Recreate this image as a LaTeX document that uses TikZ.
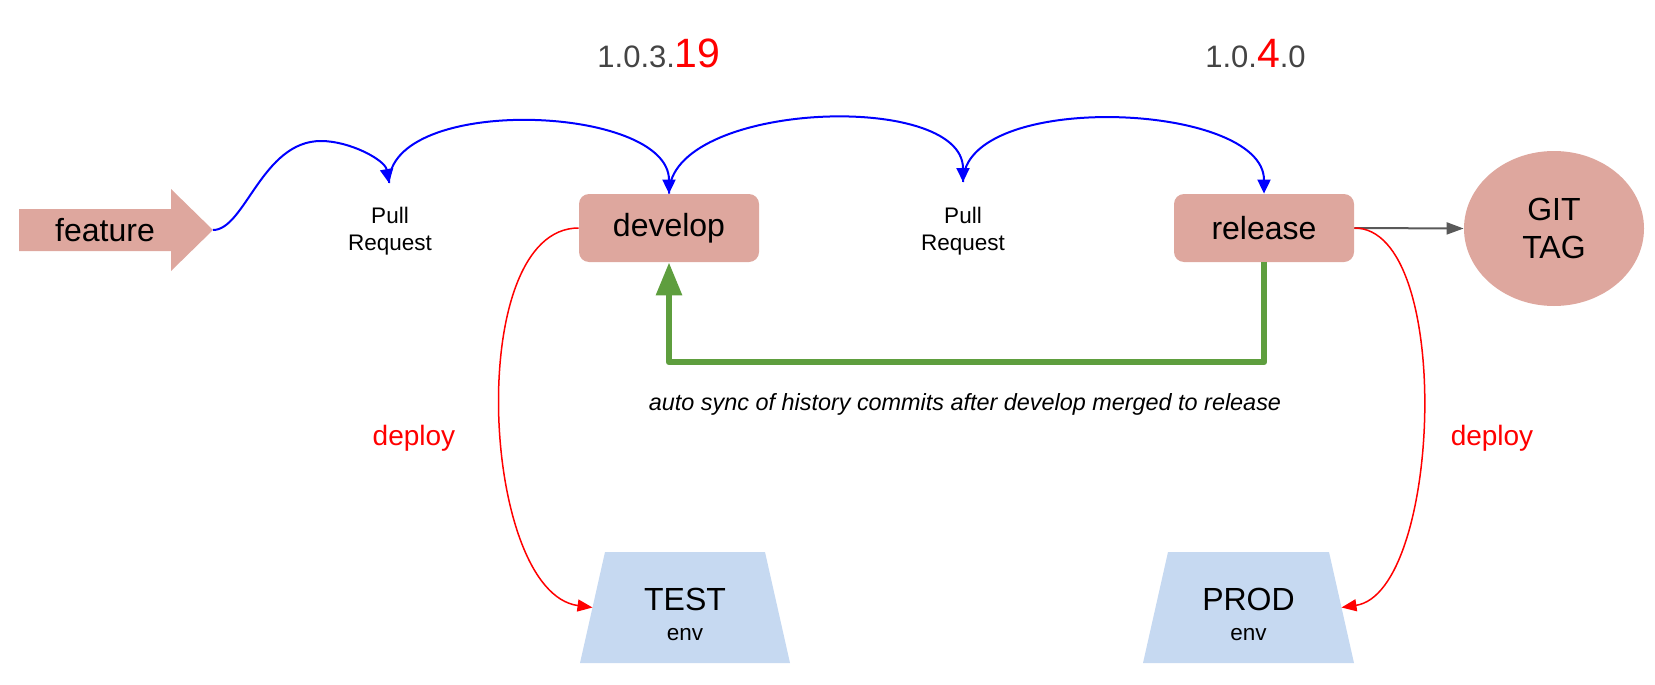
\documentclass[tikz,border=0pt]{standalone}
\usepackage{fontspec}
\setmainfont{Liberation Sans}
\usetikzlibrary{arrows.meta,shapes.geometric,calc}
\definecolor{boxfill}{HTML}{DEA79E}
\definecolor{envfill}{HTML}{C6D9F1}
\definecolor{syncgreen}{HTML}{5E9E3E}
\definecolor{tagarrow}{HTML}{595959}
\definecolor{vgrey}{HTML}{444444}
\begin{document}
\begin{tikzpicture}[x=0.5pt,y=-0.5pt,
  branch/.style={fill=boxfill, rounded corners=5pt, minimum width=90pt, minimum height=34pt, inner sep=0pt, font=\fontsize{16}{19}\selectfont},
  tagnode/.style={ellipse, fill=boxfill, minimum width=90pt, minimum height=77.5pt, inner sep=0pt, align=center, font=\fontsize{16}{19}\selectfont},
  bigtext/.style={font=\fontsize{16}{19}\selectfont, inner sep=0pt},
  smalltext/.style={font=\fontsize{11.25}{13.5}\selectfont, inner sep=0pt, align=center},
  deploytext/.style={font=\fontsize{14}{17}\selectfont, text=red, inner sep=0pt},
  prflow/.style={blue, line width=1pt, -{Triangle[length=7pt,width=6.5pt]}},
  deployflow/.style={red, line width=0.75pt, -{Triangle[length=7.5pt,width=6pt]}},
  tagflow/.style={tagarrow, line width=1pt, -{Triangle[length=8.5pt,width=6pt]}},
  syncflow/.style={syncgreen, line width=3pt, line join=round, -{Triangle[length=16.5pt,width=12.5pt]}}
]
\useasboundingbox (0,0) rectangle (1655,685);

% feature arrow shape
\fill[boxfill] (19,209) -- (171,209) -- (171,189) -- (213,230) -- (171,271) -- (171,251) -- (19,251) -- cycle;
\coordinate (ftip) at (213,230);
\node[bigtext] (featuretxt) at (105,230) {feature};

% main nodes
\node[branch] (develop) at (669,228) {develop};
\node[branch] (release) at (1264,228) {release};
\node[tagnode] (gittag) at (1554,228.5) {GIT\\TAG};

% environment trapezoids
\fill[envfill] (605,552) -- (765,552) -- (790,663) -- (580,663) -- cycle;
\fill[envfill] (1168,552) -- (1329,552) -- (1354,663) -- (1143,663) -- cycle;
\coordinate (testL) at (592.5,607.5);
\coordinate (prodR) at (1341.5,607.5);
\node[bigtext, anchor=base] (testtxt) at (685,610) {TEST};
\node[smalltext, anchor=base] (testenv) at (685,640) {env};
\node[bigtext, anchor=base] (prodtxt) at (1248.5,610) {PROD};
\node[smalltext, anchor=base] (prodenv) at (1248.5,640) {env};

% pull request points and labels
\coordinate (pr1) at (389,183);
\coordinate (pr2) at (963,182);
\node[smalltext] (pr1txt) at (390,231) {Pull\\Request};
\node[smalltext] (pr2txt) at (963,231) {Pull\\Request};

% version labels
\node[anchor=base, inner sep=0pt] (v1) at (659,67) {\fontsize{15.5}{18}\selectfont\color{vgrey}1.0.3.{\color{red}\fontsize{20.5}{24}\selectfont 19}};
\node[anchor=base, inner sep=0pt] (v2) at (1255.5,67) {\fontsize{15.5}{18}\selectfont\color{vgrey}1.0.{\color{red}\fontsize{20.5}{24}\selectfont 4}.0};

% blue pull request flow
\draw[prflow] (ftip) .. controls (245,230) and (262,141) .. (321,141) .. controls (350,141) and (385,160) .. (pr1);
\draw[prflow] (pr1) .. controls +(0,-89) and +(0,-89) .. (develop.north);
\draw[prflow] (develop.north) .. controls +(0,-92) and +(0,-92) .. (pr2);
\draw[prflow] (pr2) .. controls +(0,-92) and +(0,-92) .. (release.north);

% tag arrow
\draw[tagflow] (release.east) -- (gittag.west);

% deploy arrows
\draw[deployflow] (develop.west) .. controls +(-115,0) and +(-112,-15) .. (testL);
\draw[deployflow] (release.east) .. controls +(100,0) and +(100,-15) .. (prodR);
\node[deploytext, anchor=base] (dep1) at (414,445) {deploy};
\node[deploytext, anchor=base] (dep2) at (1492,445) {deploy};

% green sync arrow
\draw[syncflow] (release.south) -- ++(0,100) -| (develop.south);
\node[anchor=base, inner sep=0pt, font=\fontsize{11.7}{14}\selectfont\itshape] (synctxt) at (965,410) {auto sync of history commits after develop merged to release};
\end{tikzpicture}
\end{document}
